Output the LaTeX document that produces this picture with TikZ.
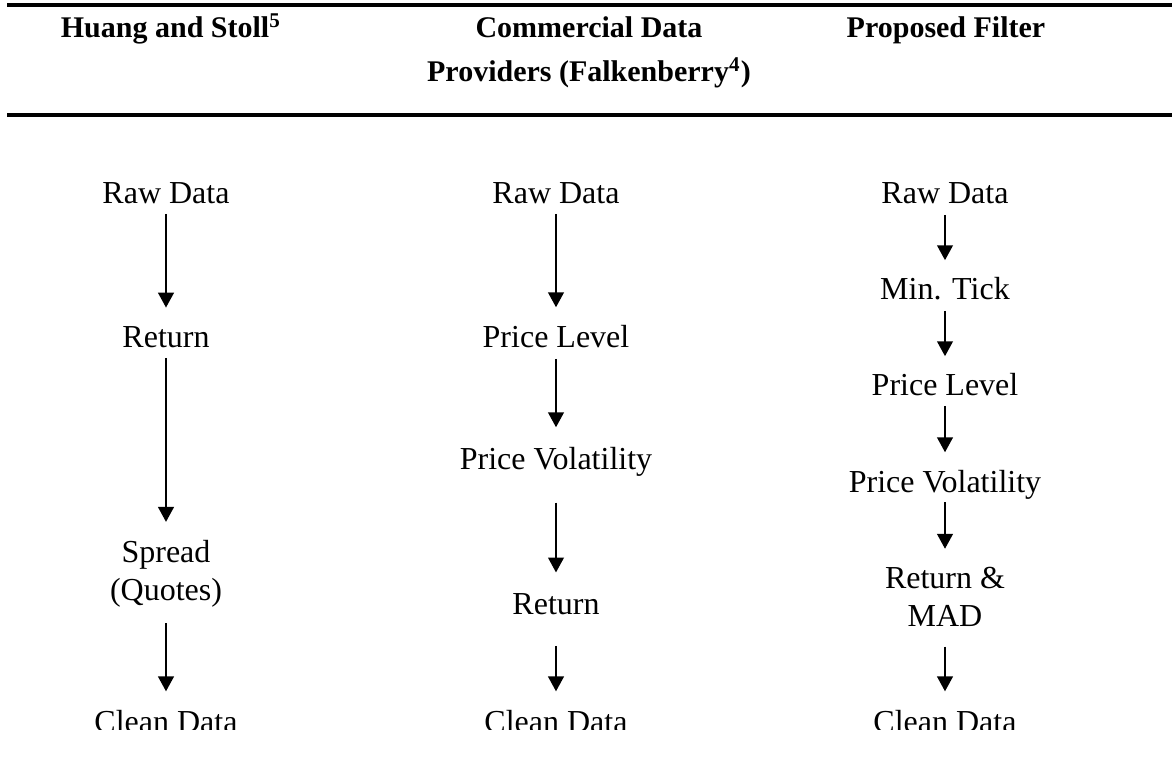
\documentclass[tikz,border=0pt]{standalone}
\usepackage{fontspec}
\setmainfont{Liberation Serif}
\usepackage{tikz}
\usetikzlibrary{
	arrows.meta,
	positioning,
	}

\begin{document}
\begin{tikzpicture}[x=0.375pt, y=-0.375pt,
		stage/.style={inner sep=0pt, anchor=base, align=center, font=\fontsize{12}{14.4}\selectfont},
		head/.style={inner sep=0pt, anchor=base, align=center, font=\fontsize{11.25}{16.5}\selectfont\bfseries},
		flow/.style={-{Triangle[width=5.9pt,length=5.6pt]}, line width=0.75pt},
		rule/.style={line width=1.5pt},
	]
		\useasboundingbox (0,0) rectangle (1172,776);
		\begin{scope}
		\clip (0,0) rectangle (1172,730);
		% table head
		\draw[rule] (7,5) -- (1172,5);
		\draw[rule] (7,115) -- (1172,115);
		\node[head] (hs) at (171,38) {Huang and Stoll\textsuperscript{5}};
		\node[head] (cdp) at (589,82) {Commercial Data\\Providers (Falkenberry\textsuperscript{4})};
		\node[head] (pf) at (946,38) {Proposed Filter};
		% Huang and Stoll
		\node[stage] (raw1) at (166,204) {Raw Data};
		\node[stage] (ret1) at (166,348) {Return};
		\node[stage] (spr1) at (166,601) {Spread\\(Quotes)};
		\node[stage] (cln1) at (166,733) {Clean Data};
		\draw[flow, shorten <=3.4pt, shorten >=7.1pt] (raw1) -- (ret1);
		\draw[flow, shorten <=3.4pt, shorten >=6.75pt] (ret1) -- (spr1);
		\draw[flow, shorten <=5.6pt, shorten >=7.1pt] (spr1) -- (cln1);
		% commercial providers
		\node[stage] (raw2) at (556,204) {Raw Data};
		\node[stage] (lev2) at (556,348) {Price Level};
		\node[stage] (vol2) at (556,470) {Price Volatility};
		\node[stage] (ret2) at (556,615) {Return};
		\node[stage] (cln2) at (556,733) {Clean Data};
		\draw[flow, shorten <=3.4pt, shorten >=6.75pt] (raw2) -- (lev2);
		\draw[flow, shorten <=3.75pt, shorten >=7.5pt] (lev2) -- (vol2);
		\draw[flow, shorten <=9.4pt, shorten >=7.9pt] (vol2) -- (ret2);
		\draw[flow, shorten <=11.25pt, shorten >=7.1pt] (ret2) -- (cln2);
		% proposed filter
		\node[stage] (raw3) at (945,204) {Raw Data};
		\node[stage] (tick3) at (945,300) {Min. Tick};
		\node[stage] (lev3) at (945,396) {Price Level};
		\node[stage] (vol3) at (945,493) {Price Volatility};
		\node[stage] (mad3) at (945,627) {Return \&\\MAD};
		\node[stage] (cln3) at (945,733) {Clean Data};
		\draw[flow, shorten <=3.75pt, shorten >=6.4pt] (raw3) -- (tick3);
		\draw[flow, shorten <=3.75pt, shorten >=6.4pt] (tick3) -- (lev3);
		\draw[flow, shorten <=3.4pt, shorten >=6.75pt] (lev3) -- (vol3);
		\draw[flow, shorten <=0.75pt, shorten >=6.75pt] (vol3) -- (mad3);
		\draw[flow, shorten <=7.1pt, shorten >=7.1pt] (mad3) -- (cln3);
		\end{scope}
	\end{tikzpicture}
\end{document}
